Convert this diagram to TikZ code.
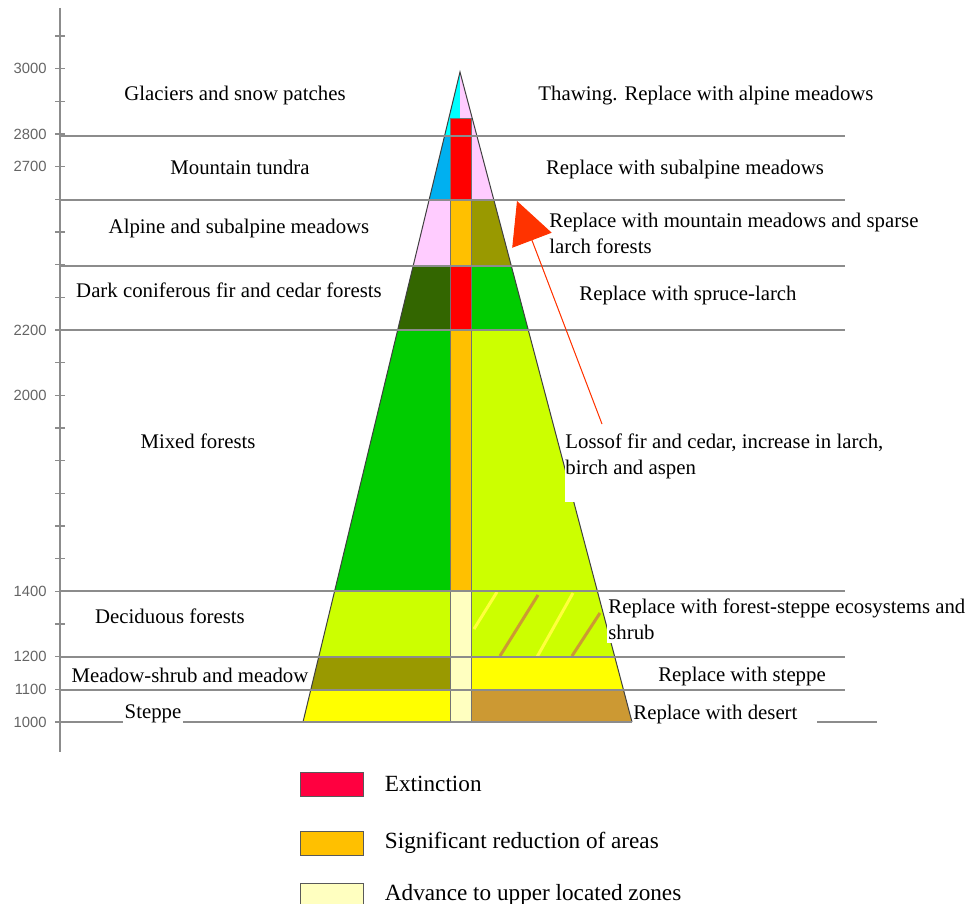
\documentclass[tikz,border=0pt]{standalone}
\usepackage{fontspec}
\setmainfont{Liberation Serif}
\newfontfamily\axisfont{Liberation Sans}
\usetikzlibrary{arrows.meta,positioning}
\definecolor{tipcyan}{RGB}{0,255,255}
\definecolor{tundrablue}{RGB}{0,176,240}
\definecolor{meadowpink}{RGB}{255,204,255}
\definecolor{lossred}{RGB}{255,0,0}
\definecolor{cutorange}{RGB}{255,192,0}
\definecolor{olive}{RGB}{153,153,0}
\definecolor{firgreen}{RGB}{51,102,0}
\definecolor{mixgreen}{RGB}{0,204,0}
\definecolor{lime}{RGB}{204,255,0}
\definecolor{paleyel}{RGB}{255,255,192}
\definecolor{steppeyel}{RGB}{255,255,0}
\definecolor{desertbr}{RGB}{204,153,51}
\definecolor{hatchyel}{RGB}{255,255,60}
\definecolor{keyred}{RGB}{255,0,64}
\definecolor{arrowred}{RGB}{255,51,0}
\definecolor{rulegray}{RGB}{140,140,140}
\definecolor{axisgray}{RGB}{100,100,100}
\newcommand{\zone}[5]{%
  \filldraw[cell,fill=#3] (290,#1) rectangle (450,#2);
  \filldraw[cell,fill=#4] (450,#1) rectangle (471,#2);
  \filldraw[cell,fill=#5] (471,#1) rectangle (650,#2);}
\tikzset{
  zonelbl/.style={anchor=base,inner sep=0pt,font=\fontsize{10.4}{13}\selectfont},
  fatepara/.style={zonelbl,anchor=north west,align=left},
  ticklbl/.style={anchor=east,inner sep=0pt,text=axisgray,
                  font=\axisfont\fontsize{7.4}{9}\selectfont},
  rulel/.style={draw=rulegray,line width=0.6pt},
  cell/.style={draw=black!55,line width=0.3pt},
  edge/.style={draw=black!75,line width=0.5pt},
  hatch/.style={line width=1.5pt},
  keybox/.style={draw=black!65,line width=0.4pt,minimum width=31.5pt,
                 minimum height=12pt,inner sep=0pt},
  keytext/.style={font=\fontsize{11.6}{14}\selectfont},
  shiftarr/.style={-{Triangle[length=21pt,width=21pt]},draw=arrowred,
                   fill=arrowred,line width=0.5pt},
}

\begin{document}
\begin{tikzpicture}[x=0.5pt,y=-0.5pt]
  \useasboundingbox (0,0) rectangle (971,904);
  % altitude axis
  \draw[rulegray,line width=1pt] (60,8) -- (60,752);
  \foreach \i in {0,...,21}
    \draw[rulegray,line width=0.7pt] (55,36+\i*32.667) -- (65,36+\i*32.667);
  \foreach \i/\h in {1/3000,3/2800,4/2700,9/2200,11/2000,17/1400,19/1200,20/1100,21/1000}
    \node[ticklbl] (h\h) at (47,36+\i*32.667) {\h};

  % the mountain
  \coordinate (apex) at (460,72);
  \coordinate (bl) at (303,722);
  \coordinate (br) at (632,722);
  \begin{scope}
    \clip (apex) -- (bl) -- (br) -- cycle;
    \fill[tipcyan] (290,60) rectangle (460,136);
    \fill[meadowpink] (460,60) rectangle (650,136);
    \zone{136}{200}{tundrablue}{lossred}{meadowpink}
    \filldraw[cell,fill=lossred] (450,118) rectangle (471,200);
    \zone{200}{266}{meadowpink}{cutorange}{olive}
    \zone{266}{330}{firgreen}{lossred}{mixgreen}
    \zone{330}{591}{mixgreen}{cutorange}{lime}
    \zone{591}{657}{lime}{paleyel}{lime}
    \zone{657}{690}{olive}{paleyel}{steppeyel}
    \zone{690}{722}{steppeyel}{paleyel}{desertbr}
    \draw[hatch,hatchyel] (497,592) -- (474,629);
    \draw[hatch,hatchyel] (573,593) -- (537,657);
    \draw[hatch,desertbr] (538,595) -- (500,656);
    \draw[hatch,desertbr] (600,613) -- (572,656);
  \end{scope}
  \draw[edge] (bl) -- (apex) -- (br);

  \foreach \y in {136,200,266,330,591,657,690}
    \draw[rulel] (60,\y) -- (845,\y);
  \draw[rulel] (60,722) -- (632,722);
  \draw[rulel] (817,722) -- (877,722);
  \fill[white] (565,425) rectangle (580,502);
  \fill[white] (607,595) rectangle (620,643);

  % belts
  \node[zonelbl] (glac) at (235,101) {Glaciers and snow patches};
  \node[zonelbl] (tund) at (240,175) {Mountain tundra};
  \node[zonelbl] (alp) at (239,234) {Alpine and subalpine meadows};
  \node[zonelbl] (dark) at (229,298) {Dark coniferous fir and cedar forests};
  \node[zonelbl] (mix) at (198,448) {Mixed forests};
  \node[zonelbl] (dec) at (170,623) {Deciduous forests};
  \node[zonelbl] (msh) at (190,682) {Meadow-shrub and meadow};
  \node[zonelbl,fill=white,inner xsep=1pt,inner ysep=2pt] (stp) at (153,718) {Steppe};

  % what happens to them
  \node[zonelbl] (thaw) at (706,101) {Thawing. Replace with alpine meadows};
  \node[zonelbl] (subalp) at (685,175) {Replace with subalpine meadows};
  \node[fatepara] (mtn) at (549,213) {Replace with mountain meadows and sparse\\larch forests};
  \node[zonelbl] (spl) at (688,300) {Replace with spruce-larch};
  \node[fatepara] (loss) at (565,433) {Lossof fir and cedar, increase in larch,\\birch and aspen};
  \node[fatepara] (fst) at (608,598) {Replace with forest-steppe ecosystems and\\shrub};
  \node[zonelbl] (rst) at (742,681) {Replace with steppe};
  \node[zonelbl,anchor=base west] (rds) at (633,719) {Replace with desert};

  \coordinate (shiftfrom) at (602,424);
  \coordinate (shiftto) at (517,201);
  \draw[shiftarr] (shiftfrom) -- (shiftto);

  % key
  \node[keybox,fill=keyred] (kext) at (332,784) {};
  \node[keytext,right=7pt of kext] (text) {Extinction};
  \node[keybox,fill=cutorange] (kred) at (332,843) {};
  \node[keytext,right=7pt of kred] (tred) {Significant reduction of areas};
  \node[keybox,fill=paleyel] (kadv) at (332,895) {};
  \node[keytext,right=7pt of kadv] (tadv) {Advance to upper located zones};
\end{tikzpicture}
\end{document}
